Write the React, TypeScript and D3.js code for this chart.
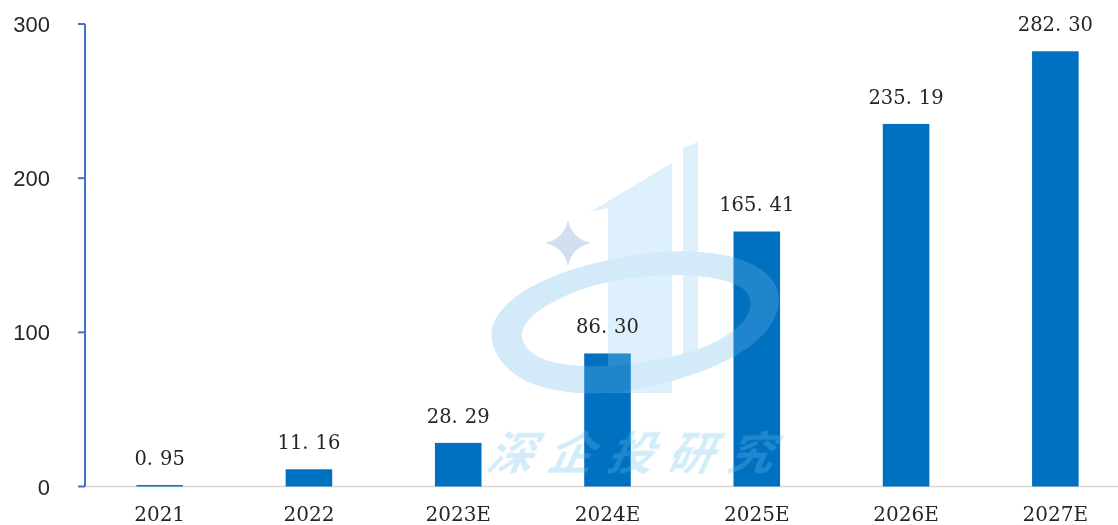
import React from "react";
import * as d3 from "d3";

const categories = ["2021", "2022", "2023E", "2024E", "2025E", "2026E", "2027E"];
const values = [0.95, 11.16, 28.29, 86.3, 165.41, 235.19, 282.3];
const yTicks = [0, 100, 200, 300];
const watermarkText = "深企投研究";

const W = 1118;
const H = 525;

function fmt(v: number) {
  const s = v.toFixed(2);
  const [a, b] = s.split(".");
  return { a: a + ".", b };
}

export default function App() {
  const x = d3.scaleBand<string>().domain(categories).range([85, 1130]).padding(0);
  const y = d3.scaleLinear().domain([0, 300]).range([486.5, 24]);
  const barW = x.bandwidth() * 0.312;
  const axisX = 85;

  return (
    <svg width={W} height={H} style={{ position: "absolute", left: 0, top: 0, background: "#fff" }}>
      {/* baseline */}
      <line x1={axisX} x2={W} y1={y(0)} y2={y(0)} stroke="#d9d9d9" strokeWidth={1.5} />
      {/* bars */}
      {categories.map((c, i) => {
        const cx = x(c)! + x.bandwidth() / 2;
        return (
          <rect key={c} x={cx - barW / 2} y={y(values[i])} width={barW} height={y(0) - y(values[i])} fill="#0070C0" />
        );
      })}
      {/* watermark */}
      <g opacity={0.3} pointerEvents="none">
        <path
          d="M568,220 Q572,239 591,243 Q572,247 568,266 Q564,247 545,243 Q564,239 568,220 Z"
          fill="#6f8fcf"
        />
        <path d="M590,212 L672,163 L672,393 L608,393 L608,208 Z" fill="#8fcdf2" />
        <path d="M683,148 L698,142 L698,357 L683,362 Z" fill="#8fcdf2" />
        <path
          fillRule="evenodd"
          fill="#6cb9ea"
          d="M493,345 C480,300 560,262 660,252 C740,246 790,272 777,312 C765,350 700,380 620,392 C560,398 505,385 493,345 Z M525,345 C540,372 620,372 690,352 C748,333 762,303 742,288 C718,272 650,270 592,286 C542,302 512,325 525,345 Z"
        />
        <text
          x={490}
          y={470}
          fontFamily="Noto Sans CJK SC"
          fontWeight="bold"
          fontStyle="italic"
          fontSize={46}
          letterSpacing={14}
          fill="#6cc0ef"
          transform="skewX(-12) translate(95,0)"
        >
          {watermarkText}
        </text>
      </g>
      {/* data labels */}
      {categories.map((c, i) => {
        const cx = x(c)! + x.bandwidth() / 2;
        const f = fmt(values[i]);
        return (
          <text key={c} x={cx} y={y(values[i]) - 20} textAnchor="middle" fontFamily="DejaVu Serif" fontSize={19.5} fill="#262626">
            {f.a}
            <tspan dx={7}>{f.b}</tspan>
          </text>
        );
      })}
      {/* x labels */}
      {categories.map((c) => (
        <text key={c} x={x(c)! + x.bandwidth() / 2} y={521} textAnchor="middle" fontFamily="DejaVu Serif" fontSize={20} fill="#262626">
          {c}
        </text>
      ))}
      {/* y axis */}
      <line x1={axisX} x2={axisX} y1={y(300)} y2={y(0)} stroke="#4472C4" strokeWidth={2} />
      {yTicks.map((t) => (
        <g key={t}>
          <line x1={axisX - 7} x2={axisX} y1={y(t)} y2={y(t)} stroke="#4472C4" strokeWidth={2} />
          <text x={50} y={y(t) + 8} textAnchor="end" fontFamily="Liberation Sans" fontSize={22} fill="#262626">
            {t}
          </text>
        </g>
      ))}
    </svg>
  );
}
